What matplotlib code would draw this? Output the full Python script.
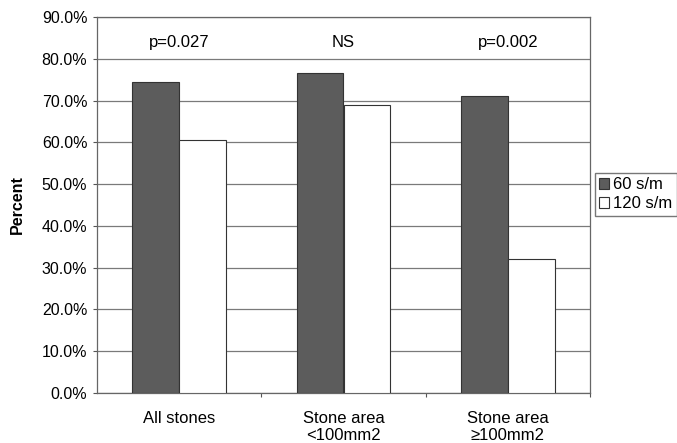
import matplotlib.pyplot as plt
import matplotlib.ticker as mticker
import numpy as np

plt.rcParams['font.family'] = ['Liberation Sans', 'DejaVu Sans']

categories = ['All stones', 'Stone area\n<100mm2', 'Stone area\n≥100mm2']
series_names = ['60 s/m', '120 s/m']
values_60 = [74.5, 76.5, 71.1]
values_120 = [60.5, 69.0, 32.1]
p_labels = ['p=0.027', 'NS', 'p=0.002']

fig = plt.figure(figsize=(6.77, 4.43), dpi=100)
ax = fig.add_axes([97 / 677, 50 / 443, 493 / 677, 376 / 443])

x = np.arange(len(categories))
w = 0.286
ax.bar(x - w / 2, values_60, w, color='#5c5c5c', edgecolor='#333333',
       linewidth=0.8, label=series_names[0], zorder=3)
ax.bar(x + w / 2, values_120, w, color='white', edgecolor='#333333',
       linewidth=0.8, label=series_names[1], zorder=3)

for xi, t in zip(x, p_labels):
    ax.text(xi, 84, t, ha='center', va='center', fontsize=12)

ax.set_xlim(-0.5, 2.5)
ax.set_ylim(0, 90)
ax.yaxis.set_major_locator(mticker.MultipleLocator(10))
ax.yaxis.set_major_formatter(mticker.FuncFormatter(lambda v, p: f'{v:.1f}%'))
ax.yaxis.grid(True, color='#7a7a7a', linewidth=0.9, zorder=0)
ax.set_axisbelow(True)

ax.set_xticks([0.5, 1.5, 2.5])
ax.set_xticklabels([])
ax.set_xticks(x, minor=True)
ax.set_xticklabels(categories, minor=True, fontsize=12, linespacing=1.15)
ax.tick_params(axis='x', which='minor', length=0, pad=13)
ax.tick_params(axis='x', which='major', length=3, color='#555555')
ax.tick_params(axis='y', length=3, color='#555555', labelsize=11.5, pad=4)

for s in ax.spines.values():
    s.set_color('#666666')
    s.set_linewidth(0.9)

ax.set_ylabel('Percent', fontsize=11.5, fontweight='bold', labelpad=12)

fig.legend(loc='upper left', bbox_to_anchor=(595 / 677, 1 - 173 / 443),
           fontsize=12, frameon=True, fancybox=False, edgecolor='#555555',
           handlelength=0.6, handleheight=0.6, handletextpad=0.25,
           borderpad=0.25, labelspacing=0.25, borderaxespad=0)

fig.savefig('out.png', dpi=100)
